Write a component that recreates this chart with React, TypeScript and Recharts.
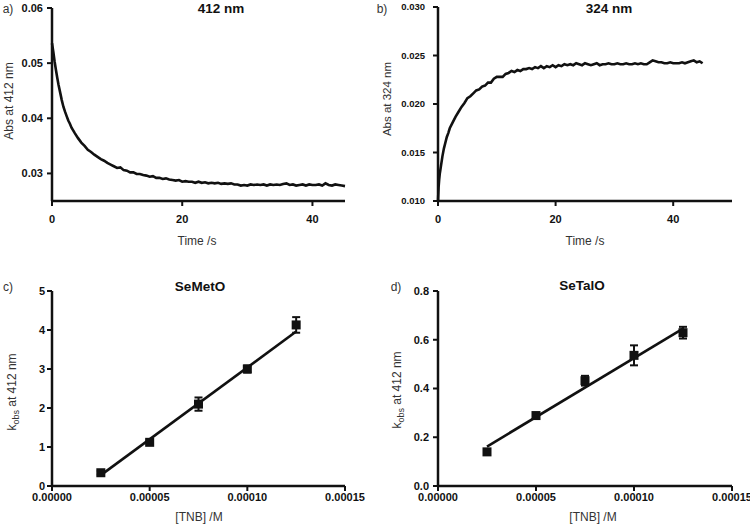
import React from 'react';
import {
  LineChart,
  Line,
  ComposedChart,
  Scatter,
  ErrorBar,
  ReferenceLine,
  XAxis,
  YAxis,
} from 'recharts';

const FONT = '"Liberation Sans", Arial, sans-serif';
const INK = '#111111';

// a) absorbance trace at 412 nm
const timeA = [
  0, 0.2, 0.4, 0.6, 0.8, 1.0, 1.25, 1.5, 1.75, 2.0, 2.25, 2.5, 2.75, 3.0, 3.5, 4.0, 4.5, 5.0,
  5.5, 6.0, 6.5, 7.0, 7.5, 8.0, 8.5, 9.0, 9.5, 10, 10.5, 11, 11.5, 12, 12.5, 13, 13.5, 14, 14.5,
  15, 15.5, 16, 16.5, 17, 17.5, 18, 18.5, 19, 19.5, 20, 20.5, 21, 21.5, 22, 22.5, 23, 23.5, 24,
  24.5, 25, 25.5, 26, 26.5, 27, 27.5, 28, 28.5, 29, 29.5, 30, 30.5, 31, 31.5, 32, 32.5, 33, 33.5,
  34, 34.5, 35, 35.5, 36, 36.5, 37, 37.5, 38, 38.5, 39, 39.5, 40, 40.5, 41, 41.5, 42, 42.5, 43,
  43.5, 44, 44.5, 45,
];
const absA = [
  0.0536, 0.0521, 0.0503, 0.0488, 0.0474, 0.0461, 0.0447, 0.0433, 0.0421, 0.0412, 0.0404, 0.0396,
  0.039, 0.0383, 0.0373, 0.0364, 0.0356, 0.035, 0.0343, 0.0339, 0.0334, 0.033, 0.0326, 0.0323,
  0.0319, 0.0316, 0.0313, 0.031, 0.0311, 0.0306, 0.0305, 0.0302, 0.0302, 0.0299, 0.0299, 0.0297,
  0.0296, 0.0294, 0.0295, 0.0292, 0.0292, 0.029, 0.0291, 0.0289, 0.0288, 0.0287, 0.0288, 0.0285,
  0.0286, 0.0285, 0.0285, 0.0283, 0.0285, 0.0283, 0.0284, 0.0282, 0.0283, 0.0282, 0.0283, 0.0281,
  0.0282, 0.0281, 0.0282, 0.028, 0.028, 0.0278, 0.0279, 0.0278, 0.028, 0.0279, 0.028, 0.0279,
  0.028, 0.0278, 0.028, 0.0279, 0.028, 0.0279, 0.0281, 0.0282, 0.0279, 0.028, 0.0278, 0.0279,
  0.028, 0.0278, 0.028, 0.0279, 0.0279, 0.028, 0.0278, 0.0282, 0.0279, 0.0278, 0.028, 0.0279,
  0.0278, 0.0277,
];

// b) absorbance trace at 324 nm
const timeB = [
  0, 0.05, 0.1, 0.2, 0.3, 0.4, 0.5, 0.75, 1.0, 1.25, 1.5, 1.75, 2.0, 2.5, 3.0, 3.5, 4.0, 4.5, 5.0,
  5.5, 6.0, 6.5, 7.0, 7.5, 8.0, 8.5, 9.0, 9.5, 10, 10.5, 11, 11.5, 12, 12.5, 13, 13.5, 14, 14.5,
  15, 15.5, 16, 16.5, 17, 17.5, 18, 18.5, 19, 19.5, 20, 20.5, 21, 21.5, 22, 22.5, 23, 23.5, 24,
  24.5, 25, 25.5, 26, 26.5, 27, 27.5, 28, 28.5, 29, 29.5, 30, 30.5, 31, 31.5, 32, 32.5, 33, 33.5,
  34, 34.5, 35, 35.5, 36, 36.5, 37, 37.5, 38, 38.5, 39, 39.5, 40, 40.5, 41, 41.5, 42, 42.5, 43,
  43.5, 44, 44.5, 45,
];
const absB = [
  0.01, 0.0107, 0.0114, 0.0122, 0.0128, 0.0132, 0.0136, 0.0146, 0.0154, 0.016, 0.0166, 0.017,
  0.0175, 0.0181, 0.0187, 0.0192, 0.0197, 0.0201, 0.0206, 0.0208, 0.0211, 0.0214, 0.0215, 0.0218,
  0.0219, 0.0222, 0.0222, 0.0226, 0.0228, 0.0228, 0.0228, 0.0231, 0.0232, 0.0234, 0.0233, 0.0235,
  0.0234, 0.0236, 0.0236, 0.0237, 0.0236, 0.0238, 0.0237, 0.0239, 0.0237, 0.0239, 0.0238, 0.024,
  0.0238, 0.024, 0.0239, 0.0241, 0.024, 0.0241, 0.024, 0.0242, 0.0241, 0.024, 0.0242, 0.0241,
  0.024, 0.0241, 0.0242, 0.024, 0.0241, 0.0241, 0.0242, 0.0241, 0.0241, 0.0242, 0.0241, 0.0241,
  0.0242, 0.0241, 0.0241, 0.0242, 0.0241, 0.0242, 0.0241, 0.0241, 0.0243, 0.0245, 0.0244, 0.0243,
  0.0243, 0.0242, 0.0242, 0.0243, 0.0242, 0.0242, 0.0242, 0.0243, 0.0242, 0.0243, 0.0244, 0.0245,
  0.0243, 0.0244, 0.0242,
];

// c) / d) kobs vs [TNB]
const tnb = [0.000025, 0.00005, 0.000075, 0.0001, 0.000125];
const kobsMet = [0.34, 1.12, 2.1, 3.0, 4.13];
const errMet = [0.05, 0.05, 0.17, 0.09, 0.2];
const fitMet = [0.28, 3.96];
const kobsTal = [0.14, 0.289, 0.432, 0.536, 0.629];
const errTal = [0.008, 0.008, 0.02, 0.041, 0.024];
const fitTal = [0.162, 0.646];

const ticksTime = [0, 20, 40];
const ticksTnb = [0, 0.00005, 0.0001, 0.00015];
const ticksA = [0.03, 0.04, 0.05, 0.06];
const ticksB = [0.01, 0.015, 0.02, 0.025, 0.03];
const ticksC = [0, 1, 2, 3, 4, 5];
const ticksD = [0, 0.2, 0.4, 0.6, 0.8];

const traceA = timeA.map((t, i) => ({ t, v: absA[i] }));
const traceB = timeB.map((t, i) => ({ t, v: absB[i] }));
const pointsMet = tnb.map((x, i) => ({ x, y: kobsMet[i], err: errMet[i] }));
const pointsTal = tnb.map((x, i) => ({ x, y: kobsTal[i], err: errTal[i] }));

const tickStyle = { fontFamily: FONT, fontSize: 11, fontWeight: 700, fill: INK };
const tickStyleSmall = { ...tickStyle, fontSize: 9.5 };
const axisLine = { stroke: INK, strokeWidth: 2.5 };
const tickLine = { stroke: INK, strokeWidth: 2 };

function Square(props: any) {
  const { cx, cy } = props;
  if (cx == null || cy == null) return null;
  return <rect x={cx - 4.5} y={cy - 4.5} width={9} height={9} fill={INK} />;
}

function Txt({ x, y, children, bold = false, size = 12, rotate = false }: any) {
  return (
    <div
      style={{
        position: 'absolute',
        left: x,
        top: y,
        transform: `translate(-50%, -50%)${rotate ? ' rotate(-90deg)' : ''}`,
        whiteSpace: 'nowrap',
        fontFamily: FONT,
        fontSize: size,
        fontWeight: bold ? 700 : 400,
        color: bold ? INK : '#333',
        lineHeight: 1,
      }}
    >
      {children}
    </div>
  );
}

const Kobs = () => (
  <span>
    k<sub style={{ fontSize: 9, verticalAlign: -3 }}>obs</sub> at 412 nm
  </span>
);

export default function App() {
  return (
    <div style={{ position: 'absolute', left: 0, top: 0, width: 750, height: 529, background: '#fff', overflow: 'hidden' }}>
      {/* a) */}
      <div style={{ position: 'absolute', left: 0, top: 0 }}>
        <LineChart width={375} height={250} data={traceA} margin={{ top: 8, right: 30, bottom: 19, left: 12 }}>
          <XAxis dataKey="t" type="number" domain={[0, 45]} ticks={ticksTime} height={30}
            axisLine={axisLine} tickLine={tickLine} tickSize={5} tickMargin={9} tick={tickStyle} />
          <YAxis type="number" domain={[0.025, 0.06]} ticks={ticksA} width={40} allowDataOverflow
            tickFormatter={(v: number) => v.toFixed(2)}
            axisLine={axisLine} tickLine={tickLine} tickSize={5} tickMargin={4} tick={tickStyle} />
          <Line dataKey="v" stroke={INK} strokeWidth={2.6} dot={false} isAnimationActive={false} />
        </LineChart>
      </div>
      {/* b) */}
      <div style={{ position: 'absolute', left: 375, top: 0 }}>
        <LineChart width={375} height={250} data={traceB} margin={{ top: 7, right: 18, bottom: 19, left: 23 }}>
          <XAxis dataKey="t" type="number" domain={[0, 50]} ticks={ticksTime} height={30}
            axisLine={axisLine} tickLine={tickLine} tickSize={5} tickMargin={9} tick={tickStyle} />
          <YAxis type="number" domain={[0.01, 0.03]} ticks={ticksB} width={40} allowDataOverflow
            tickFormatter={(v: number) => v.toFixed(3)}
            axisLine={axisLine} tickLine={tickLine} tickSize={5} tickMargin={8} tick={tickStyleSmall} />
          <Line dataKey="v" stroke={INK} strokeWidth={2.6} dot={false} isAnimationActive={false} />
        </LineChart>
      </div>
      {/* c) */}
      <div style={{ position: 'absolute', left: 0, top: 265 }}>
        <ComposedChart width={375} height={264} data={pointsMet} margin={{ top: 26, right: 30, bottom: 13, left: 12 }}>
          <XAxis dataKey="x" type="number" domain={[0, 0.00015]} ticks={ticksTnb} height={30}
            tickFormatter={(v: number) => v.toFixed(5)}
            axisLine={axisLine} tickLine={tickLine} tickSize={5} tickMargin={2} tick={tickStyle} />
          <YAxis type="number" domain={[0, 5]} ticks={ticksC} width={40}
            axisLine={axisLine} tickLine={tickLine} tickSize={5} tickMargin={2} tick={tickStyle} />
          <ReferenceLine segment={[{ x: tnb[0], y: fitMet[0] }, { x: tnb[4], y: fitMet[1] }]}
            stroke={INK} strokeWidth={2.6} />
          <Scatter dataKey="y" shape={Square} isAnimationActive={false}>
            <ErrorBar dataKey="err" direction="y" width={4} stroke={INK} strokeWidth={2} />
          </Scatter>
        </ComposedChart>
      </div>
      {/* d) */}
      <div style={{ position: 'absolute', left: 375, top: 265 }}>
        <ComposedChart width={375} height={264} data={pointsTal} margin={{ top: 26, right: 18, bottom: 13, left: 23 }}>
          <XAxis dataKey="x" type="number" domain={[0, 0.00015]} ticks={ticksTnb} height={30}
            tickFormatter={(v: number) => v.toFixed(5)}
            axisLine={axisLine} tickLine={tickLine} tickSize={5} tickMargin={2} tick={tickStyle} />
          <YAxis type="number" domain={[0, 0.8]} ticks={ticksD} width={40}
            tickFormatter={(v: number) => v.toFixed(1)}
            axisLine={axisLine} tickLine={tickLine} tickSize={5} tickMargin={4} tick={tickStyle} />
          <ReferenceLine segment={[{ x: tnb[0], y: fitTal[0] }, { x: tnb[4], y: fitTal[1] }]}
            stroke={INK} strokeWidth={2.6} />
          <Scatter dataKey="y" shape={Square} isAnimationActive={false}>
            <ErrorBar dataKey="err" direction="y" width={4} stroke={INK} strokeWidth={2} />
          </Scatter>
        </ComposedChart>
      </div>

      {/* panel letters and titles */}
      <Txt x={8} y={9}>a)</Txt>
      <Txt x={382} y={9}>b)</Txt>
      <Txt x={8} y={287}>c)</Txt>
      <Txt x={396} y={287}>d)</Txt>
      <Txt x={221} y={9} bold size={13.5}>412 nm</Txt>
      <Txt x={609} y={9} bold size={13.5}>324 nm</Txt>
      <Txt x={200} y={287} bold size={13.5}>SeMetO</Txt>
      <Txt x={582} y={286} bold size={13.5}>SeTalO</Txt>

      {/* axis titles */}
      <Txt x={9} y={101} rotate>Abs at 412 nm</Txt>
      <Txt x={388} y={99} rotate size={11.5}>Abs at 324 nm</Txt>
      <Txt x={197} y={241}>Time /s</Txt>
      <Txt x={585} y={241}>Time /s</Txt>
      <Txt x={13} y={392} rotate><Kobs /></Txt>
      <Txt x={398} y={390} rotate><Kobs /></Txt>
      <Txt x={199} y={517}>[TNB] /M</Txt>
      <Txt x={593} y={517}>[TNB] /M</Txt>
    </div>
  );
}
